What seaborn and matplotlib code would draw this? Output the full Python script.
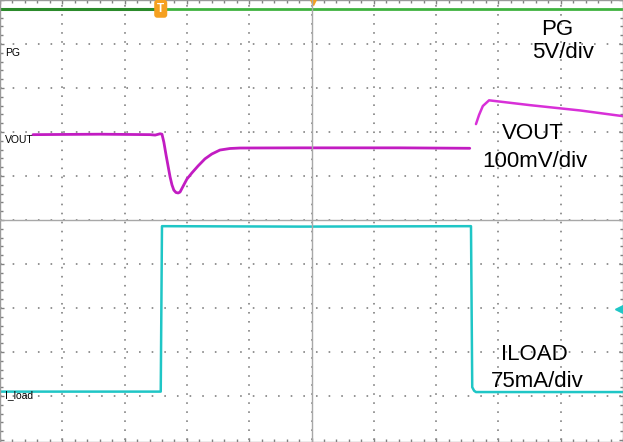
import matplotlib
matplotlib.use("Agg")
import matplotlib.pyplot as plt
import numpy as np
import pandas as pd
import seaborn as sns

# scope screen, all values in divisions (10 x 10 grid, centre at x=5, y=0)
pg_x = [0.0, 2.58]
pg_y = [4.80, 4.80]
pg2_x = [2.58, 10.0]
pg2_y = [4.80, 4.80]

vout_x = [0.53, 1.60, 2.41, 2.49, 2.57, 2.60, 2.63, 2.665, 2.70, 2.73, 2.76, 2.79,
          2.825, 2.86, 2.89, 2.94, 3.00, 3.08, 3.18, 3.29, 3.40, 3.53, 3.69, 3.85,
          4.82, 6.42, 7.54]
vout_y = [1.94, 1.95, 1.94, 1.93, 1.96, 1.95, 1.77, 1.48, 1.21, 0.98, 0.80, 0.68,
          0.625, 0.614, 0.636, 0.77, 0.93, 1.07, 1.23, 1.39, 1.50, 1.59, 1.625, 1.636,
          1.64, 1.64, 1.63]
vout2_x = [7.64, 7.69, 7.75, 7.85, 8.51, 9.31, 10.0]
vout2_y = [2.18, 2.39, 2.59, 2.72, 2.61, 2.49, 2.36]

iload_x = [0.0, 2.58, 2.60, 4.82, 7.56, 7.58, 7.61, 7.64, 10.0]
iload_y = [-3.90, -3.90, -0.14, -0.15, -0.14, -3.80, -3.88, -3.91, -3.91]

right_labels = [("PG", 8.94, 4.20), ("5V/div", 9.04, 3.68),
                ("VOUT", 8.56, 1.84), ("100mV/div", 8.59, 1.21),
                ("ILOAD", 8.57, -3.18), ("75mA/div", 8.62, -3.80)]
left_labels = [("PG", 3.73), ("VOUT", 1.75), ("I_load", -4.05)]

sns.set_style("white")
plt.rcParams['font.family'] = ['Liberation Sans', 'DejaVu Sans']

fig = plt.figure(figsize=(6.23, 4.42), dpi=100)
ax = fig.add_axes([0, 0, 1, 1])
xlim = (0, 10)
ylim = (-5.045, 5.0)

# dotted graticule
for gx in range(1, 10):
    ax.plot([gx, gx], [-5, 5], color='#8a8a8a', linewidth=1.3,
            linestyle=(0, (0.9, 4.1)), zorder=1)
for gy in range(-4, 5):
    ax.plot([0, 10], [gy, gy], color='#8a8a8a', linewidth=1.3,
            linestyle=(0, (0.9, 6.1)), zorder=1)

green_dark = '#2b8a2b'
green_light = '#3fb23f'
magenta = '#c21cc2'
cyan = '#1fc6c6'

sns.lineplot(x=pg_x, y=pg_y, ax=ax, color=green_dark, linewidth=2.2, sort=False, estimator=None)
sns.lineplot(x=pg2_x, y=pg2_y, ax=ax, color=green_light, linewidth=2.0, sort=False, estimator=None)
sns.lineplot(x=vout_x, y=vout_y, ax=ax, color=magenta, linewidth=2.0, sort=False, estimator=None)
sns.lineplot(x=vout2_x, y=vout2_y, ax=ax, color='#d830d8', linewidth=1.8, sort=False, estimator=None)
sns.lineplot(x=iload_x, y=iload_y, ax=ax, color=cyan, linewidth=1.8, sort=False, estimator=None)

# trigger markers
ax.text(2.58, 4.80, 'T', color='white', fontsize=8.5, fontweight='bold', ha='center', va='center',
        bbox=dict(boxstyle='round,pad=0.25', fc='#f5a020', ec='none'), zorder=5)
ax.plot([5.02], [4.97], marker='v', color='#f5a020', markersize=6, clip_on=False, zorder=5)
ax.plot([9.93], [-2.02], marker='<', color=cyan, markersize=6, clip_on=False, zorder=5)

for txt, x, y in right_labels:
    ax.text(x, y, txt, fontsize=16, ha='center', va='baseline', color='black')
for txt, y in left_labels:
    ax.text(0.08, y, txt, fontsize=7.5, ha='left', va='baseline', color='black')

ax.set_xlim(*xlim)
ax.set_ylim(*ylim)
ax.set_xlabel('')
ax.set_ylabel('')
for sp in ax.spines.values():
    sp.set_visible(True)
    sp.set_color('#9a9a9a')
    sp.set_linewidth(1)
ax.set_xticks(np.arange(0, 11, 1))
ax.set_yticks(np.arange(-5, 6, 1))
ax.set_xticks(np.arange(0, 10.01, 0.2), minor=True)
ax.set_yticks(np.arange(-5, 5.01, 0.2), minor=True)
ax.tick_params(which='both', direction='in', top=True, right=True, bottom=True, left=True,
               labelbottom=False, labelleft=False, color='#808080', width=1)
ax.tick_params(which='major', length=3)
ax.tick_params(which='minor', length=2)

# centre cross with minor ticks
ax2 = fig.add_axes([0, 0, 1, 1], facecolor='none')
ax2.set_xlim(*xlim)
ax2.set_ylim(*ylim)
ax2.spines['left'].set_position(('data', 5))
ax2.spines['bottom'].set_position(('data', 0))
ax2.spines['top'].set_visible(False)
ax2.spines['right'].set_visible(False)
for k in ['left', 'bottom']:
    ax2.spines[k].set_color('#a8a8a8')
    ax2.spines[k].set_linewidth(1)
ax2.set_xticks(np.arange(0, 11, 1))
ax2.set_yticks(np.arange(-5, 6, 1))
ax2.set_xticks(np.arange(0, 10.01, 0.2), minor=True)
ax2.set_yticks(np.arange(-5, 5.01, 0.2), minor=True)
ax2.tick_params(which='both', direction='inout', labelbottom=False, labelleft=False,
                color='#606060', width=1, length=4)

fig.savefig('out.png', dpi=100)
